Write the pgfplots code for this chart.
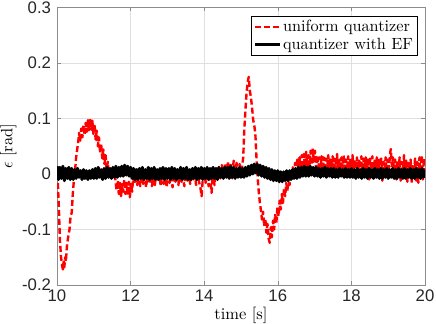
\documentclass[border=0pt]{standalone}
\usepackage{pgfplots}
\pgfplotsset{compat=1.18}
\usepackage{fontspec}
\setmainfont{lmroman10-regular.otf}[ItalicFont=lmroman10-italic.otf, BoldFont=lmroman10-bold.otf]
\newfontfamily\ticksfont{Liberation Sans}
\definecolor{gridc}{RGB}{223,223,223}
\definecolor{axc}{RGB}{140,140,140}
\definecolor{tickc}{RGB}{38,38,38}
\begin{document}
\begin{tikzpicture}
\begin{axis}[
  scale only axis, width=368bp, height=277.5bp,
  xmin=10, xmax=20, ymin=-0.2, ymax=0.3,
  xtick={10,12,14,16,18,20}, xticklabels={10,12,14,16,18,20},
  ytick={-0.2,-0.1,0,0.1,0.2,0.3}, yticklabels={-0.2,-0.1,0,0.1,0.2,0.3},
  tick label style={font=\ticksfont\fontsize{16.8}{17}\selectfont, text=tickc},
  xticklabel style={yshift=-1bp},
  yticklabel style={xshift=-2.5bp},
  axis line style={axc, line width=0.6bp},
  tick style={axc, line width=0.6bp},
  tick align=inside, major tick length=4bp,
  grid=major, grid style={gridc, line width=0.5bp},
  xlabel={time [s]}, ylabel={$\epsilon$ [rad]},
  label style={font=\fontsize{16.5}{19}\selectfont},
  xlabel style={at={(axis description cs:0.5,0)}, anchor=center, yshift=-30.5bp},
  ylabel style={at={(axis description cs:0,0.5)}, anchor=center, yshift=48.7bp},
  legend style={at={(0.979,0.969)}, anchor=north east, draw=black, line width=0.5bp,
    fill=white, font=\fontsize{16.3}{19}\selectfont, inner sep=2bp, row sep=1bp,
    cells={anchor=west}},
  legend image code/.code={\draw[#1] (0bp,0bp) -- (25bp,0bp);},
  legend cell align=left,
]
\addplot[red, line width=2.4bp, dash pattern=on 6bp off 3bp, line join=round] coordinates {
(10.00,0.000)(10.02,-0.010)(10.05,-0.060)(10.08,-0.120)(10.11,-0.150)(10.14,-0.165)
(10.16,-0.172)(10.18,-0.158)(10.20,-0.168)(10.22,-0.150)(10.24,-0.158)(10.27,-0.130)
(10.30,-0.115)(10.34,-0.100)(10.37,-0.075)(10.40,-0.070)(10.43,-0.035)(10.46,-0.010)
(10.49,0.005)(10.52,0.030)(10.55,0.045)(10.58,0.060)(10.60,0.074)(10.63,0.060)
(10.66,0.082)(10.69,0.066)(10.72,0.088)(10.75,0.070)(10.78,0.092)(10.81,0.076)
(10.84,0.097)(10.87,0.079)(10.90,0.100)(10.93,0.080)(10.96,0.096)(10.99,0.072)
(11.02,0.090)(11.05,0.062)(11.08,0.078)(11.11,0.050)(11.14,0.066)(11.17,0.038)
(11.20,0.054)(11.23,0.028)(11.26,0.044)(11.29,0.018)(11.32,0.034)(11.35,0.008)
(11.38,0.022)(11.41,0.000)(11.44,0.014)(11.47,-0.006)(11.50,0.008)(11.53,-0.008)
(11.56,0.004)(11.59,-0.012)(11.62,-0.030)(11.65,-0.012)(11.68,-0.036)(11.71,-0.016)
(11.74,-0.040)(11.77,-0.018)(11.80,-0.032)(11.83,-0.010)(11.86,-0.036)(11.89,-0.016)
(11.92,-0.038)(11.95,-0.014)(11.98,-0.042)(12.01,-0.018)(12.04,-0.032)(12.07,-0.006)
(12.10,-0.018)(12.14,-0.002)(12.18,-0.020)(12.22,0.000)(12.26,-0.022)(12.30,-0.004)
(12.34,-0.018)(12.38,0.004)(12.42,-0.024)(12.46,-0.002)(12.50,-0.016)(12.54,0.006)
(12.58,-0.022)(12.62,-0.004)(12.66,-0.020)(12.70,0.004)(12.74,-0.014)(12.78,-0.002)
(12.82,-0.022)(12.86,0.008)(12.90,-0.018)(12.94,0.000)(12.98,-0.024)(13.02,0.006)
(13.06,-0.016)(13.10,-0.002)(13.14,-0.024)(13.18,0.006)(13.22,-0.014)(13.26,-0.004)
(13.30,-0.020)(13.34,0.010)(13.38,-0.014)(13.42,-0.002)(13.46,-0.022)(13.50,0.008)
(13.54,-0.012)(13.58,0.002)(13.62,-0.018)(13.66,0.006)(13.70,-0.010)(13.74,0.004)
(13.78,-0.020)(13.82,0.006)(13.86,-0.014)(13.90,-0.026)(13.93,-0.040)(13.96,-0.010)
(14.00,0.008)(14.04,-0.016)(14.08,0.004)(14.12,-0.022)(14.16,-0.006)(14.20,-0.034)
(14.24,0.002)(14.28,-0.020)(14.32,0.010)(14.36,-0.012)(14.40,0.012)(14.44,-0.008)
(14.48,0.016)(14.52,-0.006)(14.56,0.018)(14.60,-0.004)(14.64,0.022)(14.68,-0.002)
(14.72,0.020)(14.76,-0.008)(14.80,0.024)(14.84,0.000)(14.88,0.020)(14.92,-0.004)
(14.96,0.018)(15.00,0.004)(15.03,0.012)(15.06,0.030)(15.09,0.080)(15.12,0.115)
(15.15,0.145)(15.18,0.165)(15.21,0.175)(15.24,0.150)(15.27,0.138)(15.30,0.120)
(15.33,0.098)(15.36,0.088)(15.39,0.072)(15.42,0.030)(15.45,-0.005)(15.48,-0.030)
(15.51,-0.050)(15.54,-0.065)(15.57,-0.082)(15.60,-0.068)(15.63,-0.094)(15.66,-0.080)
(15.69,-0.106)(15.72,-0.090)(15.75,-0.116)(15.78,-0.124)(15.81,-0.096)(15.84,-0.114)
(15.87,-0.084)(15.90,-0.100)(15.93,-0.072)(15.96,-0.088)(15.99,-0.060)(16.02,-0.076)
(16.05,-0.048)(16.08,-0.064)(16.11,-0.036)(16.14,-0.052)(16.17,-0.026)(16.20,-0.040)
(16.23,-0.016)(16.26,-0.030)(16.29,-0.006)(16.32,-0.020)(16.35,0.004)(16.38,-0.010)
(16.41,0.012)(16.44,-0.002)(16.47,0.020)(16.50,0.004)(16.53,0.026)(16.56,0.008)
(16.59,0.030)(16.62,0.006)(16.65,0.034)(16.68,0.010)(16.71,0.036)(16.74,0.012)
(16.77,0.040)(16.80,0.008)(16.83,0.034)(16.86,0.014)(16.89,0.042)(16.92,0.016)
(16.95,0.046)(16.98,0.022)(17.01,0.042)(17.04,0.010)(17.07,0.034)(17.10,0.004)
(17.13,0.030)(17.16,0.008)(17.19,0.032)(17.22,-0.002)(17.25,0.030)(17.28,0.004)
(17.31,0.028)(17.34,0.008)(17.37,0.034)(17.40,0.002)(17.43,0.026)(17.46,0.010)
(17.49,0.032)(17.52,-0.004)(17.55,0.028)(17.58,0.008)(17.61,0.036)(17.64,0.004)
(17.67,0.026)(17.70,-0.002)(17.73,0.030)(17.76,0.010)(17.79,0.034)(17.82,-0.006)
(17.85,0.026)(17.88,0.006)(17.91,0.032)(17.94,0.002)(17.97,0.028)(18.00,-0.004)
(18.03,0.034)(18.06,0.008)(18.09,0.026)(18.12,-0.008)(18.15,0.030)(18.18,0.004)
(18.21,0.024)(18.24,-0.006)(18.27,0.032)(18.30,0.006)(18.33,0.028)(18.36,-0.002)
(18.39,0.030)(18.42,0.004)(18.45,0.026)(18.48,-0.010)(18.51,0.028)(18.54,0.008)
(18.57,0.032)(18.60,-0.006)(18.63,0.024)(18.66,0.002)(18.69,0.030)(18.72,-0.008)
(18.75,0.026)(18.78,0.006)(18.81,0.028)(18.84,-0.012)(18.87,0.022)(18.90,0.000)
(18.93,0.030)(18.96,-0.004)(18.99,0.026)(19.02,0.010)(19.05,0.036)(19.07,0.045)
(19.10,0.014)(19.13,0.030)(19.16,-0.004)(19.19,0.026)(19.22,-0.010)(19.25,0.024)
(19.28,0.004)(19.31,0.030)(19.34,-0.012)(19.37,0.022)(19.40,0.002)(19.43,0.034)
(19.46,-0.008)(19.49,0.024)(19.52,-0.014)(19.55,0.020)(19.58,-0.006)(19.61,0.026)
(19.64,-0.016)(19.67,0.018)(19.70,0.000)(19.73,0.028)(19.76,-0.012)(19.79,0.022)
(19.82,-0.016)(19.85,0.030)(19.88,-0.004)(19.91,0.034)(19.94,-0.010)(19.97,0.028)
(20.00,0.004)
};
\addlegendentry{uniform quantizer}
\addplot[black, line width=3bp, line join=round] coordinates {
(10.00,0.014)(10.04,-0.010)(10.08,0.012)(10.12,-0.008)(10.16,0.014)(10.20,-0.012)
(10.24,0.010)(10.28,-0.008)(10.32,0.012)(10.36,-0.010)(10.40,0.010)(10.44,-0.010)
(10.48,0.008)(10.52,-0.008)(10.56,0.010)(10.60,-0.006)(10.64,0.006)(10.68,-0.010)
(10.72,0.008)(10.76,-0.008)(10.80,0.006)(10.84,-0.010)(10.88,0.006)(10.92,-0.008)
(10.96,0.008)(11.00,-0.008)(11.04,0.010)(11.08,-0.008)(11.12,0.012)(11.16,-0.006)
(11.20,0.008)(11.24,-0.010)(11.28,0.010)(11.32,-0.008)(11.36,0.012)(11.40,-0.006)
(11.44,0.010)(11.48,-0.008)(11.52,0.012)(11.56,-0.006)(11.60,0.014)(11.64,-0.006)
(11.68,0.012)(11.72,-0.004)(11.76,0.014)(11.80,-0.004)(11.84,0.016)(11.88,-0.002)
(11.92,0.014)(11.96,-0.004)(12.00,0.012)(12.04,-0.008)(12.08,0.010)(12.12,-0.010)
(12.16,0.008)(12.20,-0.010)(12.24,0.010)(12.28,-0.008)(12.32,0.012)(12.36,-0.010)
(12.40,0.008)(12.44,-0.008)(12.48,0.012)(12.52,-0.010)(12.56,0.010)(12.60,-0.008)
(12.64,0.012)(12.68,-0.010)(12.72,0.008)(12.76,-0.010)(12.80,0.010)(12.84,-0.008)
(12.88,0.012)(12.92,-0.010)(12.96,0.010)(13.00,-0.008)(13.04,0.010)(13.08,-0.010)
(13.12,0.012)(13.16,-0.008)(13.20,0.010)(13.24,-0.010)(13.28,0.008)(13.32,-0.008)
(13.36,0.012)(13.40,-0.010)(13.44,0.010)(13.48,-0.008)(13.52,0.012)(13.56,-0.010)
(13.60,0.008)(13.64,-0.010)(13.68,0.010)(13.72,-0.008)(13.76,0.012)(13.80,-0.010)
(13.84,0.010)(13.88,-0.008)(13.92,0.012)(13.96,-0.010)(14.00,0.010)(14.04,-0.008)
(14.08,0.012)(14.12,-0.010)(14.16,0.010)(14.20,-0.008)(14.24,0.012)(14.28,-0.008)
(14.32,0.010)(14.36,-0.010)(14.40,0.012)(14.44,-0.006)(14.48,0.010)(14.52,-0.008)
(14.56,0.012)(14.60,-0.006)(14.64,0.012)(14.68,-0.008)(14.72,0.014)(14.76,-0.006)
(14.80,0.012)(14.84,-0.008)(14.88,0.010)(14.92,-0.006)(14.96,0.012)(15.00,-0.006)
(15.04,0.010)(15.08,-0.006)(15.12,0.012)(15.16,-0.004)(15.20,0.014)(15.24,-0.002)
(15.28,0.016)(15.32,0.000)(15.36,0.018)(15.40,0.002)(15.44,0.018)(15.48,-0.002)
(15.52,0.016)(15.56,-0.004)(15.60,0.014)(15.64,-0.006)(15.68,0.012)(15.72,-0.008)
(15.76,0.010)(15.80,-0.010)(15.84,0.008)(15.88,-0.012)(15.92,0.006)(15.96,-0.012)
(16.00,0.006)(16.04,-0.014)(16.08,0.004)(16.12,-0.014)(16.16,0.004)(16.20,-0.012)
(16.24,0.006)(16.28,-0.012)(16.32,0.006)(16.36,-0.010)(16.40,0.008)(16.44,-0.008)
(16.48,0.010)(16.52,-0.008)(16.56,0.012)(16.60,-0.006)(16.64,0.012)(16.68,-0.004)
(16.72,0.014)(16.76,-0.004)(16.80,0.012)(16.84,-0.004)(16.88,0.014)(16.92,-0.002)
(16.96,0.012)(17.00,-0.004)(17.04,0.012)(17.08,-0.004)(17.12,0.010)(17.16,-0.006)
(17.20,0.010)(17.24,-0.004)(17.28,0.012)(17.32,-0.006)(17.36,0.010)(17.40,-0.004)
(17.44,0.010)(17.48,-0.006)(17.52,0.010)(17.56,-0.006)(17.60,0.008)(17.64,-0.006)
(17.68,0.010)(17.72,-0.004)(17.76,0.008)(17.80,-0.006)(17.84,0.010)(17.88,-0.006)
(17.92,0.008)(17.96,-0.006)(18.00,0.010)(18.04,-0.006)(18.08,0.008)(18.12,-0.008)
(18.16,0.010)(18.20,-0.006)(18.24,0.008)(18.28,-0.008)(18.32,0.010)(18.36,-0.006)
(18.40,0.008)(18.44,-0.008)(18.48,0.010)(18.52,-0.006)(18.56,0.008)(18.60,-0.008)
(18.64,0.010)(18.68,-0.006)(18.72,0.008)(18.76,-0.008)(18.80,0.010)(18.84,-0.008)
(18.88,0.008)(18.92,-0.006)(18.96,0.010)(19.00,-0.008)(19.04,0.008)(19.08,-0.006)
(19.12,0.010)(19.16,-0.008)(19.20,0.008)(19.24,-0.008)(19.28,0.010)(19.32,-0.006)
(19.36,0.008)(19.40,-0.008)(19.44,0.010)(19.48,-0.008)(19.52,0.008)(19.56,-0.006)
(19.60,0.010)(19.64,-0.008)(19.68,0.008)(19.72,-0.008)(19.76,0.010)(19.80,-0.006)
(19.84,0.008)(19.88,-0.008)(19.92,0.010)(19.96,-0.006)(20.00,0.008)
};
\addlegendentry{quantizer with EF}
\end{axis}
\pgfresetboundingbox
\path[use as bounding box] ([shift={(-57bp,-39bp)}]current axis.south west) rectangle ([shift={(11bp,7.5bp)}]current axis.north east);
\end{tikzpicture}
\end{document}
